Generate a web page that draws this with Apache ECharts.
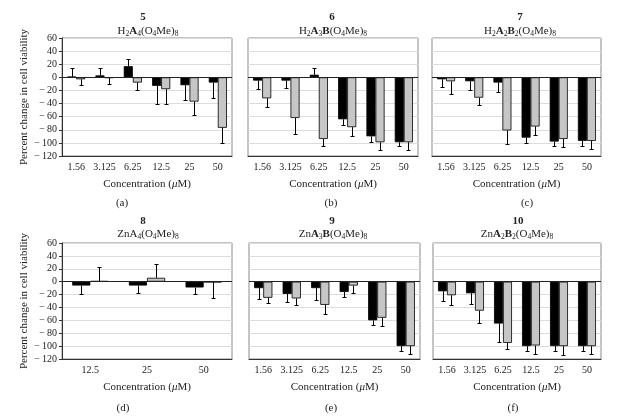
<!DOCTYPE html>
<html><head><meta charset="utf-8">
<script src="https://cdn.jsdelivr.net/npm/echarts@6/dist/echarts.min.js"></script>
<style>html,body{margin:0;padding:0;background:#fff}#c{width:620px;height:417px}</style>
</head><body><div id="c"></div>
<script>
const conc6 = ['1.56','3.125','6.25','12.5','25','50'];
const conc3 = ['12.5','25','50'];
const yTicks = [60,40,20,0,-20,-40,-60,-80,-100,-120];

const aBlack = [1, 3, 17, -13, -12, -8];
const aBlackErr = [14, 11, 11, 27, 22, 23];
const aGray = [-3, -1, -8, -18, -37, -77];
const aGrayErr = [8, 9, 11, 22, 20, 23];

const bBlack = [-5, -5, 4, -64, -90, -99];
const bBlackErr = [13, 11, 10, 9, 9, 6];
const bGray = [-32, -62, -94, -76, -99, -99];
const bGrayErr = [13, 25, 10, 14, 12, 12];

const cBlack = [-3, -6, -8, -92, -98, -97];
const cBlackErr = [11, 13, 15, 8, 7, 8];
const cGray = [-6, -31, -81, -75, -94, -97];
const cGrayErr = [19, 11, 21, 13, 12, 13];

const dBlack = [-6, -6, -9];
const dBlackErr = [13, 11, 10];
const dGray = [1, 6, -1];
const dGrayErr = [21, 21, 25];

const eBlack = [-10, -19, -10, -16, -60, -100];
const eBlackErr = [17, 13, 18, 8, 7, 7];
const eGray = [-25, -26, -36, -6, -56, -100];
const eGrayErr = [8, 10, 14, 11, 13, 13];

const fBlack = [-15, -18, -65, -100, -100, -100];
const fBlackErr = [15, 17, 28, 7, 7, 7];
const fGray = [-21, -45, -95, -99, -100, -100];
const fGrayErr = [15, 19, 10, 14, 14, 13];

const numbers = ['5','6','7','8','9','10'];
const formulas = [
  '{r|H}{s|2}{b|A}{s|4}{r|(O}{s|4}{r|Me)}{s|8}',
  '{r|H}{s|2}{b|A}{s|3}{b|B}{r|(O}{s|4}{r|Me)}{s|8}',
  '{r|H}{s|2}{b|A}{s|2}{b|B}{s|2}{r|(O}{s|4}{r|Me)}{s|8}',
  '{r|ZnA}{s|4}{r|(O}{s|4}{r|Me)}{s|8}',
  '{r|Zn}{b|A}{s|3}{b|B}{r|(O}{s|4}{r|Me)}{s|8}',
  '{r|Zn}{b|A}{s|2}{b|B}{s|2}{r|(O}{s|4}{r|Me)}{s|8}'
];
const subLabels = ['(a)','(b)','(c)','(d)','(e)','(f)'];

const panels = [
  {cats: conc6, black: aBlack, blackErr: aBlackErr, gray: aGray, grayErr: aGrayErr},
  {cats: conc6, black: bBlack, blackErr: bBlackErr, gray: bGray, grayErr: bGrayErr},
  {cats: conc6, black: cBlack, blackErr: cBlackErr, gray: cGray, grayErr: cGrayErr},
  {cats: conc3, black: dBlack, blackErr: dBlackErr, gray: dGray, grayErr: dGrayErr},
  {cats: conc6, black: eBlack, blackErr: eBlackErr, gray: eGray, grayErr: eGrayErr},
  {cats: conc6, black: fBlack, blackErr: fBlackErr, gray: fGray, grayErr: fGrayErr}
];

const FONT = '"Liberation Serif", "DejaVu Serif", serif';
const grids = [
  {left:62, top:38, width:170, height:118},
  {left:248, top:38, width:170, height:118},
  {left:432, top:38, width:169, height:118},
  {left:62, top:243, width:170, height:116},
  {left:249, top:243, width:171, height:116},
  {left:433, top:243, width:168, height:116}
];
const titlePos = [
  {nx:143, ny:17, fx:148, fy:32},
  {nx:332, ny:17, fx:333, fy:32},
  {nx:520, ny:17, fx:520, fy:32},
  {nx:143, ny:221, fx:148, fy:235},
  {nx:332, ny:221, fx:333, fy:235},
  {nx:518, ny:221, fx:517, fy:235}
];
const subPos = [[122,203],[331,203],[527,203],[123,408],[331,408],[513,408]];

const BAR_FRAC = 0.32;
const xAxes = [], yAxes = [], series = [], graphics = [];

function errRender(off) {
  return function (params, api) {
    const idx = api.value(0), v = api.value(1), e = api.value(2);
    const band = api.size([1, 0])[0];
    const w = band * BAR_FRAC;
    const p0 = api.coord([idx, v]);
    const sign = v >= 0 ? 1 : -1;
    const p1 = api.coord([idx, v + sign * e]);
    const x = Math.round(p0[0] + off * w / 2) + 0.5;
    const y1 = Math.round(p1[1]) + 0.5;
    return {
      type: 'group',
      children: [
        {type:'line', shape:{x1:x, y1:p0[1], x2:x, y2:y1}, style:{stroke:'#000', lineWidth:1}},
        {type:'line', shape:{x1:x-2, y1:y1, x2:x+2, y2:y1}, style:{stroke:'#000', lineWidth:1}}
      ]
    };
  };
}

panels.forEach((p, i) => {
  const showY = (i === 0 || i === 3);
  xAxes.push({
    type:'category', gridIndex:i, data:p.cats,
    axisLine:{onZero:false, lineStyle:{color:'#333', width:1}},
    axisTick:{alignWithLabel:true, length:3, lineStyle:{color:'#333'}},
    axisLabel:{interval:0, fontFamily:FONT, fontSize:10, color:'#222', margin:6},
    name:'{r|Concentration (}{i|μ}{r|M)}',
    nameLocation:'middle', nameGap:23,
    nameTextStyle:{rich:{
      r:{fontFamily:FONT, fontSize:11, color:'#222'},
      i:{fontFamily:FONT, fontSize:11, fontStyle:'italic', color:'#222'}
    }}
  });
  yAxes.push({
    type:'value', gridIndex:i, min:-120, max:60, interval:20,
    splitLine:{show:true, lineStyle:{color:'#dcdcdc', width:1}},
    axisLine:{show:showY, lineStyle:{color:'#333'}},
    axisTick:{show:showY, length:3, lineStyle:{color:'#333'}},
    axisLabel:{show:showY, fontFamily:FONT, fontSize:10, color:'#222', margin:5,
      formatter: v => v < 0 ? '\u2212\u2009' + (-v) : String(v)},
    name: showY ? 'Percent change in cell viability' : '',
    nameLocation:'middle', nameGap:32,
    nameTextStyle:{fontFamily:FONT, fontSize:11, color:'#222'}
  });
  series.push({
    type:'bar', xAxisIndex:i, yAxisIndex:i, data:p.black,
    barWidth:(BAR_FRAC*100)+'%', barGap:'0%',
    itemStyle:{color:'#000', borderColor:'#000', borderWidth:0.8},
    silent:true, animation:false,
    markLine:{silent:true, symbol:'none', label:{show:false},
      lineStyle:{color:'#222', type:'solid', width:1}, data:[{yAxis:0}], animation:false}
  });
  series.push({
    type:'bar', xAxisIndex:i, yAxisIndex:i, data:p.gray,
    barWidth:(BAR_FRAC*100)+'%', barGap:'0%',
    itemStyle:{color:'#c6c6c6', borderColor:'#000', borderWidth:0.8},
    silent:true, animation:false
  });
  series.push({
    type:'custom', xAxisIndex:i, yAxisIndex:i, renderItem:errRender(-1),
    data:p.cats.map((c, k) => [k, p.black[k], p.blackErr[k]]),
    encode:{x:0, y:1}, silent:true, animation:false, z:5
  });
  series.push({
    type:'custom', xAxisIndex:i, yAxisIndex:i, renderItem:errRender(1),
    data:p.cats.map((c, k) => [k, p.gray[k], p.grayErr[k]]),
    encode:{x:0, y:1}, silent:true, animation:false, z:5
  });
  const t = titlePos[i];
  graphics.push({type:'text', x:t.nx, y:t.ny, silent:true, style:{
    text:numbers[i], font:'bold 11px ' + FONT, fill:'#222', align:'center', verticalAlign:'middle'}});
  graphics.push({type:'text', x:t.fx, y:t.fy, silent:true, style:{
    text:formulas[i], align:'center', verticalAlign:'middle', fill:'#222',
    rich:{
      r:{fontFamily:FONT, fontSize:11, lineHeight:13, fill:'#222', verticalAlign:'top', padding:[0,0,2,0]},
      b:{fontFamily:FONT, fontSize:11, fontWeight:'bold', lineHeight:13, fill:'#222', verticalAlign:'top', padding:[0,0,2,0]},
      s:{fontFamily:FONT, fontSize:7.5, lineHeight:9, fill:'#222', verticalAlign:'bottom'}
    }}});
  graphics.push({type:'text', x:subPos[i][0], y:subPos[i][1], silent:true, style:{
    text:subLabels[i], font:'11px ' + FONT, fill:'#222', align:'center', verticalAlign:'middle'}});
});

const chart = echarts.init(document.getElementById('c'), null, {renderer:'canvas'});
chart.setOption({
  animation:false,
  backgroundColor:'#fff',
  grid: grids.map(g => Object.assign({show:true, borderColor:'#8a8a8a', borderWidth:1, containLabel:false}, g)),
  xAxis:xAxes, yAxis:yAxes, series:series, graphic:graphics
});
</script></body></html>
